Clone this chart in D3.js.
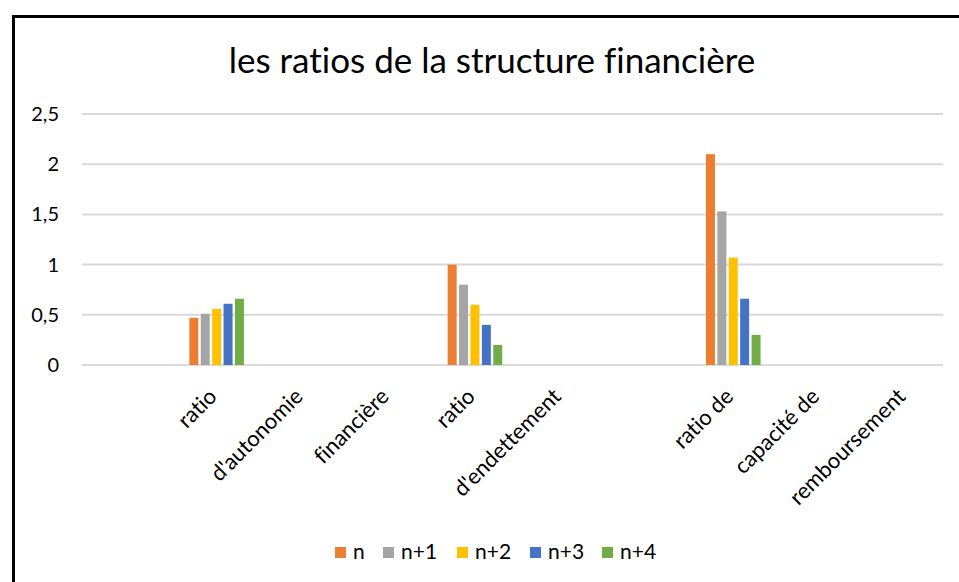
<!DOCTYPE html>
<html>
<head>
<meta charset="utf-8">
<script src="https://cdn.jsdelivr.net/npm/d3@7"></script>
<style>
  body { margin: 0; background: #fff; }
  text { font-family: Lato, "Open Sans", sans-serif; fill: #000; font-variant-ligatures: none; }
</style>
</head>
<body>
<div id="chart"></div>
<script>
// categories on the x axis (labels split over several slots, as in the workbook)
var categories = ["", "ratio", "d'autonomie", "financière", "ratio", "d'endettement", "", "ratio de", "capacité de", "remboursement"];
var seriesNames = ["n", "n+1", "n+2", "n+3", "n+4"];
var colors = ["#ED7D31", "#A5A5A5", "#FFC000", "#4472C4", "#70AD47"];

var nValues  = [null, 0.47, null, null, 1.0, null, null, 2.1,  null, null];
var n1Values = [null, 0.51, null, null, 0.8, null, null, 1.53, null, null];
var n2Values = [null, 0.56, null, null, 0.6, null, null, 1.07, null, null];
var n3Values = [null, 0.61, null, null, 0.4, null, null, 0.66, null, null];
var n4Values = [null, 0.66, null, null, 0.2, null, null, 0.3,  null, null];

var yTicks = [0, 0.5, 1, 1.5, 2, 2.5];
var title = "les ratios de la structure financière";

var allValues = [nValues, n1Values, n2Values, n3Values, n4Values];

var width = 959, height = 582;
var plotLeft = 82, plotRight = 943, plotTop = 114, plotBottom = 365;

var svg = d3.select("#chart").append("svg")
    .attr("width", width)
    .attr("height", height);

// frame
svg.append("rect")
    .attr("x", 13.5).attr("y", 16.5)
    .attr("width", 960).attr("height", 600)
    .attr("fill", "#fff")
    .attr("stroke", "#000")
    .attr("stroke-width", 3);

svg.append("text")
    .attr("x", 492).attr("y", 73)
    .attr("text-anchor", "middle")
    .style("font-size", "35px")
    .text(title);

var x0 = d3.scaleBand()
    .domain(d3.range(categories.length))
    .range([plotLeft, plotRight]);

var y = d3.scaleLinear()
    .domain([0, 2.5])
    .range([plotBottom, plotTop]);

// one slot per series, plus an empty leading slot (blank series in the sheet)
var slot = 11.4;
var x1 = d3.scaleBand()
    .domain(["blank"].concat(seriesNames))
    .range([0, slot * (seriesNames.length + 1)]);

// gridlines
svg.append("g").selectAll("line")
    .data(yTicks)
  .enter().append("line")
    .attr("x1", plotLeft).attr("x2", plotRight)
    .attr("y1", function(d){ return y(d); })
    .attr("y2", function(d){ return y(d); })
    .attr("stroke", "#D9D9D9")
    .attr("stroke-width", 2);

// y labels
var yAxis = svg.append("g")
    .attr("transform", "translate(" + (plotLeft - 23) + ",0)")
    .call(d3.axisLeft(y).tickValues(yTicks).tickSize(0).tickPadding(0)
      .tickFormat(function(d){ return String(d).replace(".", ","); }));
yAxis.select(".domain").remove();
yAxis.selectAll("text")
    .attr("font-family", null)
    .style("font-size", "20px")
    .attr("fill", "#000");

// bars
seriesNames.forEach(function(name, si){
  var rows = allValues[si].map(function(v, i){ return {i: i, v: v}; })
      .filter(function(d){ return d.v != null; });
  svg.append("g").selectAll("rect")
      .data(rows)
    .enter().append("rect")
      .attr("x", function(d){
        var start = x0(d.i) + (x0.bandwidth() - x1.range()[1]) / 2;
        return start + x1(name) + 1;
      })
      .attr("y", function(d){ return y(d.v); })
      .attr("width", slot - 2.4)
      .attr("height", function(d){ return y(0) - y(d.v); })
      .attr("fill", colors[si]);
});

// x labels rotated
svg.append("g").selectAll("text")
    .data(categories)
  .enter().append("text")
    .attr("transform", function(d, i){
      return "translate(" + (x0(i) + x0.bandwidth() / 2 - 4) + "," + (plotBottom + 22) + ") rotate(-45)";
    })
    .attr("text-anchor", "end")
    .attr("dy", "0.7em")
    .style("font-size", "22px")
    .text(function(d){ return d; });

// legend
var legendX = [335, 383, 457, 530, 602];
var legend = svg.append("g").selectAll("g")
    .data(seriesNames)
  .enter().append("g")
    .attr("transform", function(d, i){ return "translate(" + legendX[i] + ",547)"; });
legend.append("rect")
    .attr("width", 11).attr("height", 11)
    .attr("fill", function(d, i){ return colors[i]; });
legend.append("text")
    .attr("x", 18).attr("y", 11.5)
    .style("font-size", "21px")
    .text(function(d){ return d; });
</script>
</body>
</html>
